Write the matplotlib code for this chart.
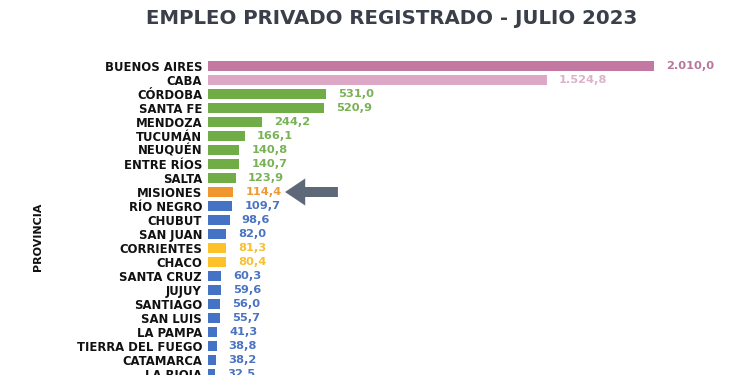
import matplotlib
matplotlib.use('Agg')
from matplotlib import pyplot as plt

# datos (miles de puestos, julio 2023)
provincias = ['BUENOS AIRES', 'CABA', 'CÓRDOBA', 'SANTA FE', 'MENDOZA', 'TUCUMÁN',
              'NEUQUÉN', 'ENTRE RÍOS', 'SALTA', 'MISIONES', 'RÍO NEGRO', 'CHUBUT',
              'SAN JUAN', 'CORRIENTES', 'CHACO', 'SANTA CRUZ', 'JUJUY', 'SANTIAGO',
              'SAN LUIS', 'LA PAMPA', 'TIERRA DEL FUEGO', 'CATAMARCA', 'LA RIOJA']
valores = [2010.0, 1524.8, 531.0, 520.9, 244.2, 166.1, 140.8, 140.7, 123.9, 114.4,
           109.7, 98.6, 82.0, 81.3, 80.4, 60.3, 59.6, 56.0, 55.7, 41.3, 38.8, 38.2, 32.5]
grupos = ['ba', 'caba', 'v', 'v', 'v', 'v', 'v', 'v', 'v', 'mis', 'a', 'a', 'a',
          'y', 'y', 'a', 'a', 'a', 'a', 'a', 'a', 'a', 'a']

col_barra = {'ba': '#c278a0', 'caba': '#dca8c6', 'v': '#70ad47', 'mis': '#f0962e',
             'a': '#4472c4', 'y': '#fdc12a'}
col_texto = {'ba': '#b9769c', 'caba': '#dcb2cb', 'v': '#79b256', 'mis': '#ee9a34',
             'a': '#4a73c2', 'y': '#f6c030'}

plt.rcParams['font.family'] = ['DejaVu Sans']

fig = plt.figure(figsize=(7.5, 3.75), dpi=100)
# ejes colocados en pixeles de la imagen de 750x375
ax = fig.add_axes([208 / 750, (375 - 381) / 375, 533 / 750, 322 / 375])

pos = list(range(len(provincias)))
ax.barh(pos, valores, height=0.72, color=[col_barra[g] for g in grupos])
ax.set_xlim(0, 2400)
ax.set_ylim(len(provincias) - 0.5, -0.5)

ax.set_yticks(pos)
ax.set_yticklabels(provincias, fontsize=8.4, fontweight='bold', color='#111111')
ax.tick_params(axis='y', length=0, pad=4.3)
ax.set_xticks([])
for s in ax.spines.values():
    s.set_visible(False)

for i, (v, g) in enumerate(zip(valores, grupos)):
    etiqueta = '{:,.1f}'.format(v).replace(',', 'X').replace('.', ',').replace('X', '.')
    ax.annotate(etiqueta, (v, i), xytext=(8.6, 0), textcoords='offset points',
                va='center', ha='left', fontsize=8.2, fontweight='bold',
                color=col_texto[g])

# flecha que marca Misiones
ax.annotate('', xy=(347, 9), xytext=(585, 9),
            arrowprops=dict(arrowstyle='simple,head_length=1.45,head_width=1.95,tail_width=0.72',
                            color='#5d6878', lw=0, shrinkA=0, shrinkB=0))

fig.text(392 / 750, 1 - 18 / 375, 'EMPLEO PRIVADO REGISTRADO - JULIO 2023',
         ha='center', va='center', fontsize=14.2, fontweight='bold', color='#3a3f4a')
fig.text(38 / 750, 1 - 237 / 375, 'PROVINCIA', rotation=90, ha='center', va='center',
         fontsize=8, fontweight='bold', color='#111111')

fig.savefig('out.png', dpi=100)
